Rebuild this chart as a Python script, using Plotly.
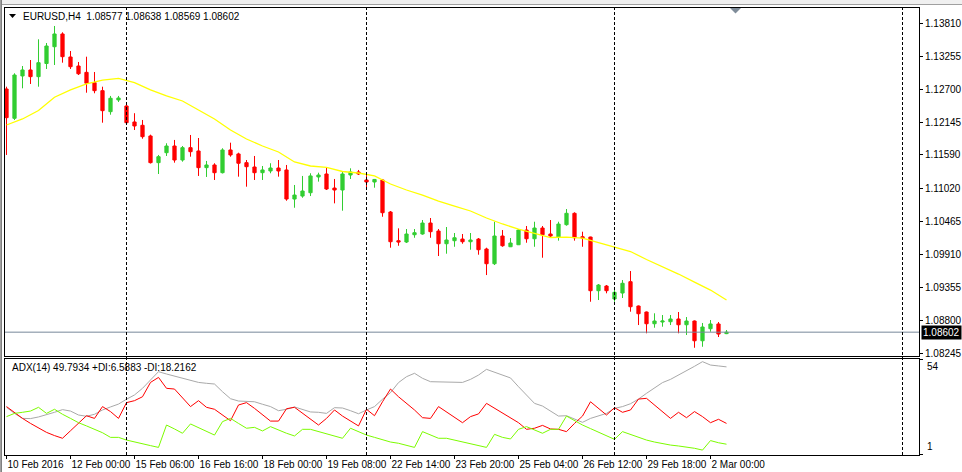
import plotly.graph_objects as go

W, H = 962, 472

# ---------------- data ----------------
bar_index = list(range(91))
bar_open = [1.12702,1.12208,1.12922,1.13023,1.12910,1.13132,1.13415,1.13630,1.13242,1.13090,
            1.12983,1.12809,1.12674,1.12320,1.12517,1.12416,1.12146,1.12090,1.11910,1.11460,
            1.11628,1.11741,1.11505,1.11713,1.11657,1.11376,1.11421,1.11291,1.11674,1.11607,
            1.11460,1.11387,1.11291,1.11320,1.11370,1.11337,1.10847,1.10897,1.10953,1.11219,
            1.11269,1.11032,1.10999,1.11252,1.11303,1.11168,1.11134,1.11168,1.10628,1.10144,
            1.10122,1.10245,1.10257,1.10442,1.10307,1.10093,1.10144,1.10172,1.10127,1.10172,
            1.10004,1.09756,1.10223,1.10042,1.10076,1.10324,1.10177,1.10358,1.10257,1.10206,
            1.10414,1.10606,1.10211,1.10206,1.09301,1.09380,1.09161,1.09262,1.09453,1.09043,
            1.08942,1.08744,1.08773,1.08778,1.08824,1.08727,1.08790,1.08457,1.08660,1.08740,
            1.08577]
bar_high = [1.12741,1.12967,1.13090,1.13191,1.13540,1.13478,1.13765,1.13658,1.13343,1.13158,
            1.13247,1.12989,1.12741,1.12585,1.12585,1.12433,1.12294,1.12180,1.11932,1.11590,
            1.11787,1.11843,1.11741,1.11927,1.11876,1.11489,1.11450,1.11703,1.11797,1.11628,
            1.11505,1.11573,1.11404,1.11450,1.11505,1.11421,1.11084,1.11236,1.11281,1.11291,
            1.11382,1.11185,1.11308,1.11365,1.11337,1.11252,1.11185,1.11185,1.10645,1.10353,
            1.10341,1.10341,1.10493,1.10527,1.10341,1.10375,1.10274,1.10257,1.10274,1.10189,
            1.10026,1.10464,1.10324,1.10189,1.10341,1.10392,1.10464,1.10392,1.10493,1.10464,
            1.10678,1.10623,1.10296,1.10211,1.09414,1.09397,1.09358,1.09481,1.09633,1.09051,
            1.08950,1.08920,1.08891,1.08891,1.08942,1.08857,1.08799,1.08757,1.08807,1.08773,
            1.08638]
bar_low = [1.11590,1.12180,1.12714,1.12787,1.12741,1.13040,1.13107,1.13146,1.13040,1.12938,
           1.12640,1.12630,1.12134,1.12269,1.12483,1.12124,1.12011,1.11864,1.11446,1.11269,
           1.11573,1.11460,1.11477,1.11561,1.11236,1.11219,1.11168,1.11278,1.11561,1.11224,
           1.11055,1.11168,1.11168,1.11281,1.11224,1.10818,1.10700,1.10869,1.10897,1.11140,
           1.10999,1.10774,1.10650,1.11185,1.11252,1.10999,1.11038,1.10548,1.10026,1.10059,
           1.10105,1.10194,1.10245,1.10194,1.09886,1.09925,1.10042,1.10093,1.09992,1.09908,
           1.09565,1.09734,1.10042,1.10037,1.10071,1.10110,1.10042,1.09857,1.10194,1.10145,
           1.10397,1.10145,1.10042,1.09115,1.09144,1.09257,1.09115,1.09178,1.08947,1.08722,
           1.08583,1.08677,1.08694,1.08722,1.08583,1.08554,1.08339,1.08356,1.08609,1.08520,
           1.08569]
bar_close = [1.12219,1.12938,1.13023,1.12910,1.13146,1.13427,1.13630,1.13247,1.13078,1.12959,
             1.12799,1.12674,1.12337,1.12546,1.12551,1.12134,1.12079,1.11898,1.11460,1.11561,
             1.11741,1.11505,1.11713,1.11645,1.11376,1.11421,1.11291,1.11674,1.11590,1.11450,
             1.11392,1.11291,1.11337,1.11370,1.11320,1.10847,1.10914,1.10982,1.11236,1.11252,
             1.11016,1.10999,1.11269,1.11303,1.11269,1.11134,1.11177,1.10616,1.10127,1.10122,
             1.10257,1.10279,1.10442,1.10296,1.10093,1.10156,1.10194,1.10127,1.10156,1.09992,
             1.09756,1.10223,1.10059,1.10105,1.10324,1.10177,1.10358,1.10245,1.10223,1.10425,
             1.10606,1.10194,1.10189,1.09301,1.09397,1.09301,1.09274,1.09426,1.09031,1.08913,
             1.08744,1.08790,1.08790,1.08824,1.08727,1.08790,1.08457,1.08689,1.08740,1.08570,
             1.08602]

ma_bars = list(range(0, 91, 2))
ma_values = [1.12095,1.12197,1.12340,1.12563,1.12686,1.12787,1.12851,1.12880,1.12811,1.12686,
             1.12585,1.12500,1.12348,1.12197,1.12011,1.11859,1.11741,1.11640,1.11472,1.11404,
             1.11379,1.11311,1.11286,1.11236,1.11100,1.10999,1.10914,1.10813,1.10729,1.10645,
             1.10527,1.10426,1.10341,1.10265,1.10198,1.10206,1.10189,1.10113,1.10042,1.09962,
             1.09827,1.09709,1.09582,1.09447,1.09312,1.09144]

adx_main = [27.2,23.8,21.0,20.9,21.8,22.9,24.4,25.9,25.1,22.9,
            22.2,23.3,25.7,27.4,29.0,31.7,34.1,37.8,42.5,47.1,
            45.8,44.7,43.6,42.5,41.1,40.6,40.2,35.9,32.0,30.7,
            30.3,30.3,28.9,27.6,25.3,26.1,27.4,26.1,24.6,24.4,
            23.8,27.0,26.8,25.3,23.6,25.7,27.6,31.7,35.4,41.0,
            44.3,46.2,43.4,41.5,41.5,41.5,41.3,41.1,42.8,45.2,
            48.4,46.9,45.2,43.6,38.7,34.1,29.4,27.9,25.1,22.3,
            22.5,20.5,18.8,21.0,22.3,23.8,26.6,27.6,29.2,31.8,
            35.0,37.8,41.0,42.8,45.1,47.7,50.1,52.7,50.8,50.3,
            49.79]
plus_di = [22.0,23.8,24.4,25.1,27.2,23.8,26.1,23.3,21.0,18.6,
           16.8,14.9,13.0,10.4,10.4,8.9,8.0,7.1,5.8,4.8,
           17.3,15.1,12.7,17.9,15.8,13.6,11.7,19.2,21.0,18.2,
           15.5,16.0,14.0,16.4,14.5,12.7,11.2,14.9,14.9,13.6,
           12.3,11.2,9.9,15.5,13.6,11.7,10.4,8.9,7.8,7.1,
           6.1,4.8,13.6,11.7,9.9,9.9,8.9,7.8,6.7,5.6,
           4.8,12.1,10.4,9.5,14.9,16.4,14.5,12.7,14.9,14.9,
           22.3,19.7,17.3,15.3,13.4,11.5,9.3,13.6,11.9,10.4,
           8.9,7.8,6.9,6.1,5.6,5.0,4.3,3.3,8.6,7.4,
           6.59]
minus_di = [27.6,24.2,21.0,18.2,15.5,13.2,11.4,9.9,14.1,18.2,
            22.5,21.0,27.6,24.8,21.0,29.8,30.9,33.1,41.1,43.9,
            37.8,37.4,32.2,27.6,30.9,27.2,26.1,22.9,19.7,28.5,
            29.8,26.6,22.9,19.5,19.5,26.4,27.2,23.8,20.5,17.3,
            21.0,25.7,22.3,19.5,16.8,26.1,22.5,30.3,37.4,33.1,
            29.4,25.7,21.4,21.0,27.6,24.6,21.4,18.6,22.0,23.5,
            29.4,26.6,23.8,21.0,18.6,14.9,15.5,17.1,15.1,14.9,
            13.6,18.2,22.3,30.3,26.6,22.9,27.0,24.4,25.7,31.8,
            32.2,28.5,24.4,21.0,24.4,21.4,24.8,22.0,18.6,20.5,
            18.2]

price_ticks = [1.13810,1.13255,1.12700,1.12145,1.11590,1.11020,1.10465,1.09910,1.09355,1.08800,1.08245]
time_tick_bars = list(range(0, 89, 8))
time_tick_labels = ["10 Feb 2016","12 Feb 00:00","15 Feb 06:00","16 Feb 16:00","18 Feb 00:00",
                    "19 Feb 08:00","22 Feb 14:00","23 Feb 20:00","25 Feb 04:00","26 Feb 12:00",
                    "29 Feb 18:00","2 Mar 00:00"]
separator_bars = [15, 45, 76, 112]
last_price = 1.08602
header_text = "EURUSD,H4  1.08577 1.08638 1.08569 1.08602"
adx_text = "ADX(14) 49.7934 +DI:6.5883 -DI:18.2162"
adx_scale = [54, 1]

# ---------------- layout helpers ----------------
def px(x):
    return x / W

def py(y):
    return 1 - y / H

FONT = "Liberation Sans, Arial, sans-serif"
FS = 10

x_range = [-0.1875, 114.0625]
main_range = [1.08200, 1.14068]
adx_range = [0.553, 54.18]
main_dom = [py(356), py(8)]
adx_dom = [py(455), py(359)]
x_dom = [px(5), px(919)]

fig = go.Figure()

fig.add_trace(go.Candlestick(
    x=bar_index, open=bar_open, high=bar_high, low=bar_low, close=bar_close,
    increasing=dict(line=dict(color="#32CD32", width=1), fillcolor="#32CD32"),
    decreasing=dict(line=dict(color="#FF0000", width=1), fillcolor="#FF0000"),
    whiskerwidth=0, xaxis="x", yaxis="y", hoverinfo="skip", showlegend=False))

fig.add_trace(go.Scatter(x=ma_bars, y=ma_values, mode="lines",
                         line=dict(color="#FFFF00", width=1.3), xaxis="x", yaxis="y",
                         hoverinfo="skip", showlegend=False))

for vals, col in [(adx_main, "#A9A9A9"), (minus_di, "#FF0000"), (plus_di, "#7CFC00")]:
    fig.add_trace(go.Scatter(x=bar_index, y=vals, mode="lines",
                             line=dict(color=col, width=1), xaxis="x2", yaxis="y2",
                             hoverinfo="skip", showlegend=False))

shapes = []
# window chrome
shapes.append(dict(type="rect", xref="paper", yref="paper", x0=0, x1=1, y0=py(4), y1=1,
                   fillcolor="#F0F0F0", line=dict(width=0), layer="below"))
shapes.append(dict(type="line", xref="paper", yref="paper", x0=0, x1=1, y0=py(4.5), y1=py(4.5),
                   line=dict(color="#A0A0A0", width=1)))
shapes.append(dict(type="line", xref="paper", yref="paper", x0=px(0.5), x1=px(0.5), y0=0, y1=1,
                   line=dict(color="#A0A0A0", width=1)))
shapes.append(dict(type="line", xref="paper", yref="paper", x0=px(1.5), x1=px(1.5), y0=0, y1=1,
                   line=dict(color="#808080", width=1)))
# last price line
shapes.append(dict(type="line", xref="x", yref="y", x0=x_range[0], x1=x_range[1],
                   y0=last_price, y1=last_price, line=dict(color="#778899", width=1)))
# period separators
for b in separator_bars:
    shapes.append(dict(type="line", xref="x", yref="paper", x0=b, x1=b,
                       y0=adx_dom[0], y1=main_dom[1],
                       line=dict(color="black", width=1, dash="3px,2px")))
# chart shift marker
shapes.append(dict(type="path", xref="paper", yref="paper",
                   path=f"M {px(730)} {py(8)} L {px(741)} {py(8)} L {px(735.5)} {py(13.5)} Z",
                   fillcolor="#7F8C99", line=dict(width=0)))
# header triangle
shapes.append(dict(type="path", xref="paper", yref="paper",
                   path=f"M {px(9)} {py(14)} L {px(16)} {py(14)} L {px(12.5)} {py(18)} Z",
                   fillcolor="black", line=dict(width=0)))

annotations = [
    dict(text=header_text, xref="paper", yref="paper", x=px(21), y=py(16.5),
         xanchor="left", yanchor="middle", showarrow=False,
         font=dict(family=FONT, size=FS, color="black")),
    dict(text=adx_text, xref="paper", yref="paper", x=px(10), y=py(367.5),
         xanchor="left", yanchor="middle", showarrow=False,
         font=dict(family=FONT, size=FS, color="black")),
    dict(text=f"{last_price:.5f}", xref="paper", yref="y", x=px(921), y=last_price,
         xanchor="left", yanchor="middle", showarrow=False, bgcolor="black",
         borderpad=1, font=dict(family=FONT, size=FS, color="white")),
    dict(text=str(adx_scale[0]), xref="paper", yref="y2", x=px(925), y=adx_scale[0],
         xanchor="left", yanchor="top", showarrow=False,
         font=dict(family=FONT, size=FS, color="black")),
    dict(text=str(adx_scale[1]), xref="paper", yref="y2", x=px(925), y=adx_scale[1],
         xanchor="left", yanchor="bottom", showarrow=False,
         font=dict(family=FONT, size=FS, color="black")),
]

axis_common = dict(showgrid=False, zeroline=False, showline=True, mirror=True,
                   linecolor="black", linewidth=1, automargin=False)

fig.update_layout(
    width=W, height=H, margin=dict(l=0, r=0, t=0, b=0, autoexpand=False),
    paper_bgcolor="white", plot_bgcolor="white",
    boxgap=0.42,
    font=dict(family=FONT, size=FS, color="black"),
    xaxis=dict(domain=x_dom, range=x_range, anchor="y", showticklabels=False, ticks="",
               rangeslider=dict(visible=False), **axis_common),
    xaxis2=dict(domain=x_dom, range=x_range, anchor="y2", matches="x",
                tickmode="array", tickvals=time_tick_bars, ticktext=time_tick_labels,
                tickangle=0, ticks="outside", ticklen=3, tickcolor="black",
                ticklabelposition="outside right",
                tickfont=dict(family=FONT, size=FS, color="black"), **axis_common),
    yaxis=dict(domain=main_dom, range=main_range, anchor="x", side="right",
               tickmode="array", tickvals=price_ticks,
               ticktext=[f"{v:.5f}" for v in price_ticks],
               ticks="outside", ticklen=3, tickcolor="black",
               tickfont=dict(family=FONT, size=FS, color="black"), **axis_common),
    yaxis2=dict(domain=adx_dom, range=adx_range, anchor="x2", side="right",
                tickmode="array", tickvals=adx_scale, showticklabels=False,
                ticks="outside", ticklen=3, tickcolor="black", **axis_common),
    shapes=shapes, annotations=annotations, showlegend=False,
)

fig.write_html("out.html")
